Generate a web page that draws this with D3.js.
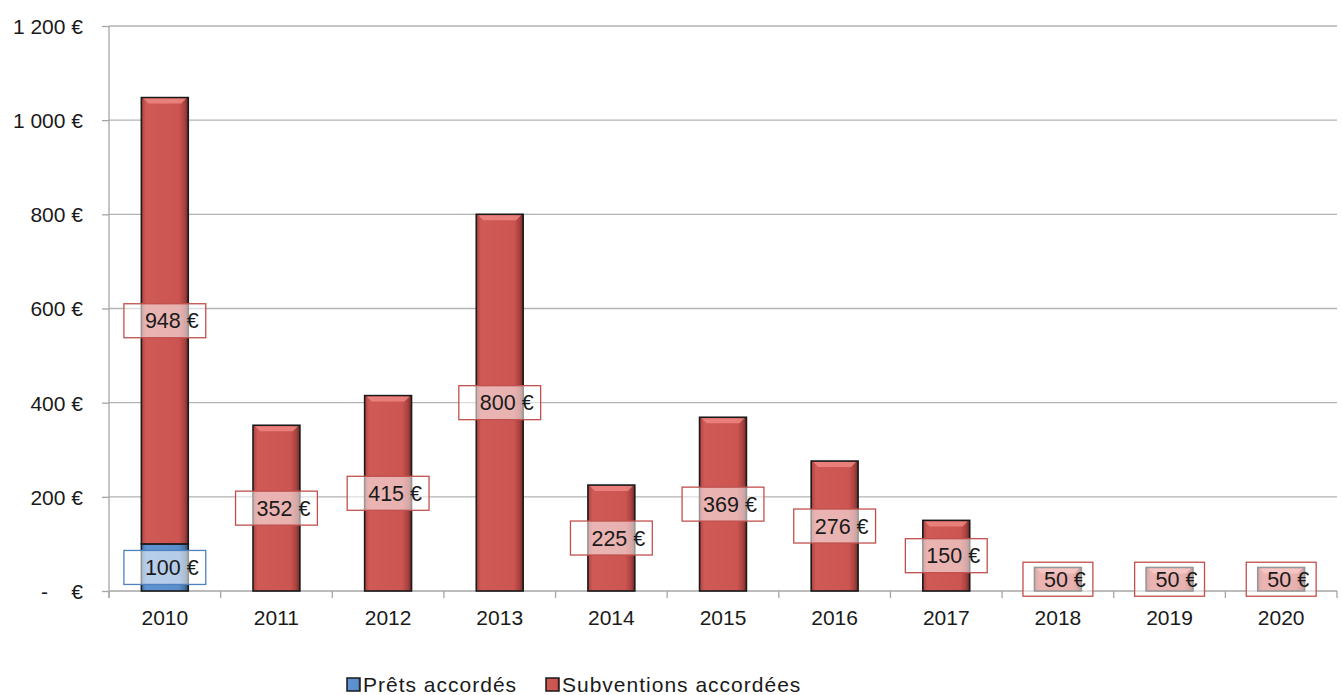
<!DOCTYPE html>
<html>
<head>
<meta charset="utf-8">
<script src="https://cdn.jsdelivr.net/npm/d3@7"></script>
<style>
  html, body { margin: 0; padding: 0; background: #ffffff; }
  svg { display: block; font-family: "Liberation Sans", Arial, sans-serif; }
  .ytick text { white-space: pre; }
</style>
</head>
<body>
<svg id="chart" width="1342" height="695"></svg>
<script>
const years = ["2010","2011","2012","2013","2014","2015","2016","2017","2018","2019","2020"];
const prets = [100, 0, 0, 0, 0, 0, 0, 0, 0, 0, 0];
const subventions = [948, 352, 415, 800, 225, 369, 276, 150, 50, 50, 50];
const yTicks = [0, 200, 400, 600, 800, 1000, 1200];
const seriesNames = ["Prêts accordés", "Subventions accordées"];

const svg = d3.select("#chart");

const x = d3.scaleBand().domain(years).range([109, 1337]).paddingInner(0.58).paddingOuter(0.29);
const y = d3.scaleLinear().domain([0, 1200]).range([591, 26]);

const fmt = v => v === 0 ? "-    €" : d3.format(",")(v).replace(/,/g, " ") + " €";

// gradients
const defs = svg.append("defs");
function grad(id, stops) {
  const g = defs.append("linearGradient").attr("id", id).attr("x1", "0%").attr("x2", "100%").attr("y1", "0%").attr("y2", "0%");
  stops.forEach(s => g.append("stop").attr("offset", s[0]).attr("stop-color", s[1]));
}
grad("gRed", [["0%", "#a84340"], ["10%", "#cf5a56"], ["80%", "#cc5551"], ["92%", "#a9423f"], ["100%", "#6e2b29"]]);
grad("gBlue", [["0%", "#3f6fa8"], ["10%", "#5f93d2"], ["80%", "#5b8ecd"], ["92%", "#46739f"], ["100%", "#2c4c72"]]);

// gridlines
svg.append("g").selectAll("line").data(yTicks.filter(d => d > 0)).join("line")
  .attr("x1", 109).attr("x2", 1337)
  .attr("y1", d => y(d)).attr("y2", d => y(d))
  .attr("stroke", "#b3b3b3").attr("stroke-width", 1.3);

// y axis
const yAxis = d3.axisLeft(y).tickValues(yTicks).tickSize(7).tickPadding(19).tickFormat(fmt);
const gy = svg.append("g").attr("class", "ytick").attr("transform", "translate(109,0)").call(yAxis);
gy.select(".domain").attr("stroke", "#a6a6a6").attr("stroke-width", 1.3).attr("d", "M0,26V598");
gy.selectAll(".tick line").attr("stroke", "#a6a6a6").attr("stroke-width", 1.3);
gy.selectAll(".tick text").attr("font-size", 21).attr("fill", "#1a1a1a")
  .attr("font-family", "Liberation Sans, Arial, sans-serif").attr("dy", "0.35em")
  .attr("xml:space", "preserve").style("white-space", "pre");

// x axis
const gx = svg.append("g").attr("transform", "translate(0,591)");
gx.append("line").attr("x1", 109).attr("x2", 1337).attr("y1", 0).attr("y2", 0).attr("stroke", "#a6a6a6").attr("stroke-width", 1.3);
const step = x.step();
gx.selectAll("line.tk").data(d3.range(years.length + 1)).join("line").attr("class", "tk")
  .attr("x1", i => 109 + i * step).attr("x2", i => 109 + i * step)
  .attr("y1", 0).attr("y2", 7).attr("stroke", "#a6a6a6").attr("stroke-width", 1.3);
gx.selectAll("text").data(years).join("text")
  .attr("x", d => x(d) + x.bandwidth() / 2).attr("y", 34)
  .attr("text-anchor", "middle").attr("font-size", 21).attr("fill", "#1a1a1a").text(d => d);

// bars
const data = years.map((yr, i) => ({yr, p: prets[i], s: subventions[i]}));
const bw = x.bandwidth();

function bar(g, x0, yTop, yBot, fill) {
  g.append("rect").attr("x", x0).attr("y", yTop).attr("width", bw).attr("height", yBot - yTop)
    .attr("fill", fill).attr("stroke", "#1a1a1a").attr("stroke-width", 1.6);
}
const bars = svg.append("g");
data.forEach(d => {
  const x0 = x(d.yr);
  if (d.p > 0) bar(bars, x0, y(d.p), y(0), "url(#gBlue)");
  bar(bars, x0, y(d.p + d.s), y(d.p), "url(#gRed)");
  const top = y(d.p + d.s);
  const hh = Math.min(6, (y(d.p) - top) / 2);
  bars.append("path")
    .attr("d", `M${x0 + 2},${top + 1}H${x0 + bw - 2}L${x0 + bw - 7},${top + hh}H${x0 + 7}Z`)
    .attr("fill", "#f08a86").attr("opacity", 0.8);
});

// labels
const lab = svg.append("g");
function label(cx, cy, text, color) {
  const g = lab.append("g");
  const t = g.append("text").attr("x", cx + 7).attr("y", cy).attr("dy", "0.36em")
    .attr("text-anchor", "middle").attr("font-size", 21.5).attr("fill", "#1a1a1a").text(text);
  const bb = t.node().getBBox();
  g.insert("rect", "text").attr("x", bb.x - 21).attr("y", cy - 17).attr("width", bb.width + 28).attr("height", 34)
    .attr("fill", "#ffffff").attr("fill-opacity", 0.55).attr("stroke", color).attr("stroke-width", 1.3);
}
data.forEach(d => {
  const cx = x(d.yr) + bw / 2;
  if (d.p > 0) label(cx, y(d.p / 2), d.p + " €", "#4f81bd");
  label(cx, y(d.p + d.s / 2), d.s + " €", "#c0504d");
});

// legend
const leg = svg.append("g");
const legItems = [
  {name: seriesNames[0], fill: "url(#gBlue)", x: 347},
  {name: seriesNames[1], fill: "url(#gRed)", x: 546}
];
legItems.forEach(it => {
  leg.append("rect").attr("x", it.x).attr("y", 678).attr("width", 13).attr("height", 13)
    .attr("fill", it.fill).attr("stroke", "#1a1a1a").attr("stroke-width", 1.5);
  leg.append("text").attr("x", it.x + 16).attr("y", 692).attr("font-size", 21)
    .attr("letter-spacing", "1px").attr("fill", "#1a1a1a").text(it.name);
});
</script>
</body>
</html>
